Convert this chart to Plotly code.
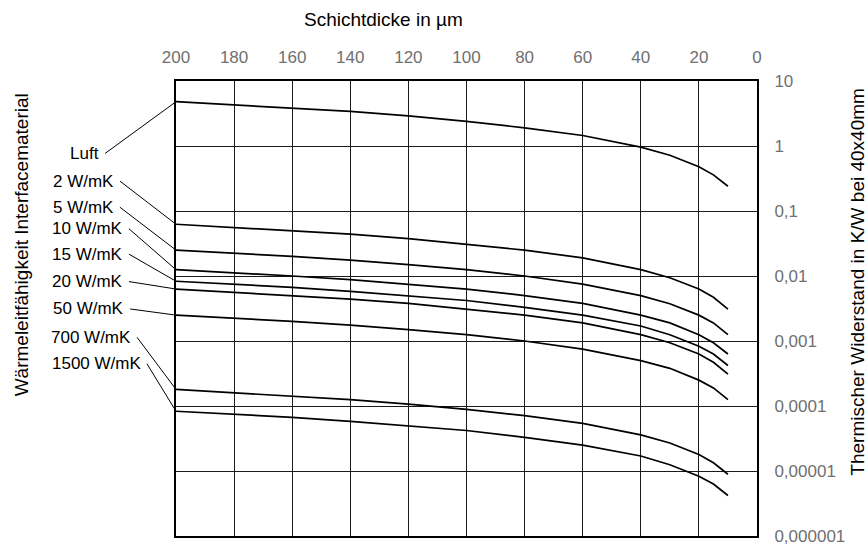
import math
import plotly.graph_objects as go

# Schichtdicke in µm (x positions of the read points)
thickness = [200, 180, 160, 140, 120, 100, 80, 60, 40, 30, 20, 15, 10]

# Thermischer Widerstand in K/W
r_luft = [4.8, 4.3, 3.85, 3.4, 2.9, 2.4, 1.9, 1.45, 0.96, 0.72, 0.48, 0.36, 0.24]
r_2 = [0.0625, 0.056, 0.05, 0.044, 0.0375, 0.031, 0.025, 0.019, 0.0125, 0.0094, 0.0063, 0.0047, 0.0031]
r_5 = [0.025, 0.0225, 0.02, 0.0175, 0.015, 0.0125, 0.01, 0.0075, 0.005, 0.00375, 0.0025, 0.0019, 0.00125]
r_10 = [0.0125, 0.0113, 0.01, 0.0088, 0.0075, 0.0063, 0.005, 0.0038, 0.0025, 0.0019, 0.00125, 0.00094, 0.00063]
r_15 = [0.0083, 0.0075, 0.0067, 0.0058, 0.005, 0.0042, 0.0033, 0.0025, 0.0017, 0.00125, 0.00083, 0.00063, 0.00042]
r_20 = [0.0063, 0.0056, 0.005, 0.0044, 0.0038, 0.0031, 0.0025, 0.0019, 0.00125, 0.00094, 0.00063, 0.00047, 0.00031]
r_50 = [0.0025, 0.00225, 0.002, 0.00175, 0.0015, 0.00125, 0.001, 0.00075, 0.0005, 0.00038, 0.00025, 0.00019, 0.000125]
r_700 = [0.00018, 0.00016, 0.00014, 0.000125, 0.000107, 0.000089, 0.000071, 0.000054, 0.000036, 0.000027, 0.000018, 0.0000134, 0.0000089]
r_1500 = [0.000083, 0.000075, 0.000067, 0.000058, 0.00005, 0.000042, 0.000033, 0.000025, 0.000017, 0.0000125, 0.0000083, 0.0000063, 0.0000042]

series_names = ["Luft", "2 W/mK", "5 W/mK", "10 W/mK", "15 W/mK", "20 W/mK", "50 W/mK", "700 W/mK", "1500 W/mK"]
series_values = [r_luft, r_2, r_5, r_10, r_15, r_20, r_50, r_700, r_1500]

# label anchor (end of leader line) in axis units: x in µm, y in log10(K/W)
label_x = [224.4, 219.3, 219.3, 216.2, 216.2, 216.2, 215.8, 213.4, 210.0]
label_y = [-0.114, -0.540, -0.942, -1.273, -1.664, -2.086, -2.507, -2.944, -3.350]

x_ticks = [200, 180, 160, 140, 120, 100, 80, 60, 40, 20, 0]
y_tickvals = [1e-6, 1e-5, 1e-4, 1e-3, 1e-2, 1e-1, 1, 10]
y_ticktext = ["0,000001", "0,00001", "0,0001", "0,001", "0,01", "0,1", "1", "10"]

FONT = "Liberation Sans, Arial, sans-serif"
TICKGRAY = "#707070"

fig = go.Figure()
for name, vals in zip(series_names, series_values):
    fig.add_trace(go.Scatter(x=thickness, y=vals, mode="lines", name=name,
                             line=dict(color="black", width=1.7), showlegend=False))

for name, vals, lx, ly in zip(series_names, series_values, label_x, label_y):
    fig.add_annotation(x=thickness[0], y=math.log10(vals[0]), xref="x", yref="y",
                       ax=lx, ay=ly, axref="x", ayref="y",
                       text=name, showarrow=True, arrowhead=0, arrowwidth=1,
                       arrowcolor="black", standoff=0, startstandoff=0,
                       xanchor="right", yanchor="middle", borderpad=5,
                       font=dict(family=FONT, size=17, color="black"))

fig.add_annotation(x=0.358, y=1.1355, xref="paper", yref="paper", showarrow=False,
                   text="Schichtdicke in µm", xanchor="center", yanchor="middle",
                   font=dict(family=FONT, size=19, color="black"))
fig.add_annotation(x=-0.2668, y=0.641, xref="paper", yref="paper", showarrow=False,
                   text="Wärmeleitfähigkeit Interfacematerial", textangle=-90,
                   xanchor="center", yanchor="middle",
                   font=dict(family=FONT, size=19, color="black"))
fig.add_annotation(x=1.1738, y=0.559, xref="paper", yref="paper", showarrow=False,
                   text="Thermischer Widerstand in K/W bei 40x40mm", textangle=-90,
                   xanchor="center", yanchor="middle",
                   font=dict(family=FONT, size=19, color="black"))

fig.update_layout(
    width=868, height=555,
    margin=dict(l=176, r=111, t=81, b=9),
    paper_bgcolor="white", plot_bgcolor="white",
    xaxis=dict(side="top", range=[200, 0], tickvals=x_ticks,
               showgrid=True, gridcolor="#1a1a1a", gridwidth=1,
               showline=True, linecolor="black", linewidth=2, mirror=True,
               ticks="", ticklabelstandoff=9, zeroline=False,
               tickfont=dict(family=FONT, size=17, color=TICKGRAY)),
    yaxis=dict(side="right", type="log", range=[-6, 1],
               tickvals=y_tickvals, ticktext=y_ticktext,
               showgrid=True, gridcolor="#1a1a1a", gridwidth=1,
               showline=True, linecolor="black", linewidth=2, mirror=True,
               ticks="", ticklabelstandoff=12, zeroline=False,
               tickfont=dict(family=FONT, size=17, color=TICKGRAY)),
)

fig.write_html("out.html")
